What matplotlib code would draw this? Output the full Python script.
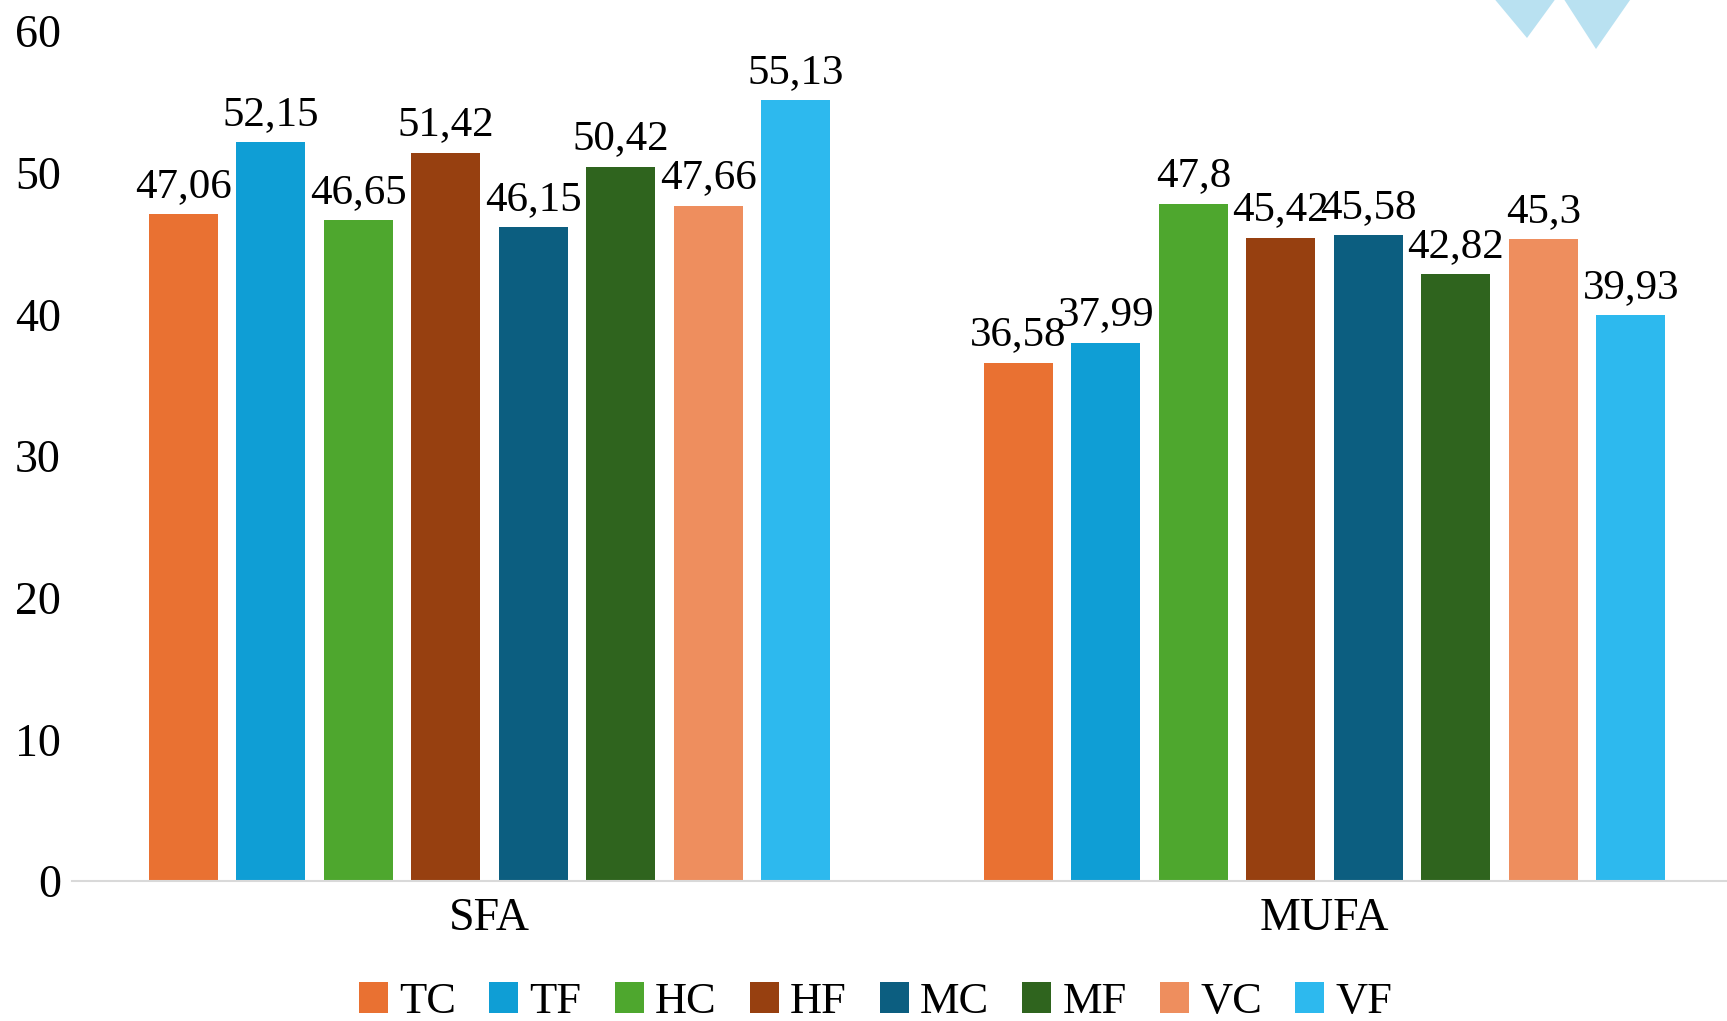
import numpy as np
import matplotlib.pyplot as plt
from matplotlib.patches import Polygon

# data
categories = ['SFA', 'MUFA']
series = ['TC', 'TF', 'HC', 'HF', 'MC', 'MF', 'VC', 'VF']
values = {
    'TC': [47.06, 36.58],
    'TF': [52.15, 37.99],
    'HC': [46.65, 47.8],
    'HF': [51.42, 45.42],
    'MC': [46.15, 45.58],
    'MF': [50.42, 42.82],
    'VC': [47.66, 45.3],
    'VF': [55.13, 39.93],
}
colors = ['#E97132', '#0F9ED5', '#4EA72E', '#974010',
          '#0C5E80', '#2F641E', '#EE8E5E', '#2DB9EE']
y_ticks = [0, 10, 20, 30, 40, 50, 60]

FONT = 'Liberation Serif'


def fmt(v):
    # comma decimal, as in the source
    s = ('%.2f' % v).rstrip('0').rstrip('.')
    return s.replace('.', ',')


fig = plt.figure(figsize=(17.27, 10.21), dpi=100)
# plot area runs a little past the right edge (cropped source)
ax = fig.add_axes([0.0417, 0.137, 0.967, 0.8326])

slot = 0.1048
bar_w = 0.083
x = np.arange(len(categories))
for i, name in enumerate(series):
    pos = x + (i - (len(series) - 1) / 2) * slot
    bars = ax.bar(pos, values[name], width=bar_w, color=colors[i], label=name)
    for b, v in zip(bars, values[name]):
        ax.annotate(fmt(v), (b.get_x() + b.get_width() / 2, v),
                    xytext=(0, 6), textcoords='offset points',
                    ha='center', va='bottom', fontsize=31, family=FONT)

ax.set_xlim(-0.5, len(categories) - 0.5)
ax.set_ylim(0, 60)
ax.set_yticks(y_ticks)
ax.set_xticks(x)
ax.set_xticklabels(categories)
for lab in ax.get_yticklabels():
    lab.set_fontsize(33)
    lab.set_family(FONT)
for lab in ax.get_xticklabels():
    lab.set_fontsize(33)
    lab.set_family(FONT)
ax.tick_params(axis='both', length=0)
ax.tick_params(axis='y', pad=8)
ax.tick_params(axis='x', pad=12)
for s in ['top', 'right', 'left']:
    ax.spines[s].set_visible(False)
ax.spines['bottom'].set_color('#D9D9D9')
ax.spines['bottom'].set_linewidth(1.5)

leg = ax.legend(loc='center', bbox_to_anchor=(0.507, 0.019),
                bbox_transform=fig.transFigure, ncol=len(series),
                frameon=False, prop={'family': FONT, 'size': 32},
                handlelength=0.65, handleheight=0.7, handletextpad=0.25,
                columnspacing=0.75, borderpad=0)

# light blue decorative triangles at top right
deco = [[(1487, -10), (1562, -10), (1527, 38)],
        [(1558, -10), (1637, -10), (1596, 49)]]
W, H = 1727, 1021
for tri in deco:
    pts = [(px / W, 1 - py / H) for px, py in tri]
    fig.patches.append(Polygon(pts, closed=True, transform=fig.transFigure,
                               facecolor='#A8DAEE', alpha=0.8, edgecolor='none'))

fig.savefig('out.png', dpi=100)
